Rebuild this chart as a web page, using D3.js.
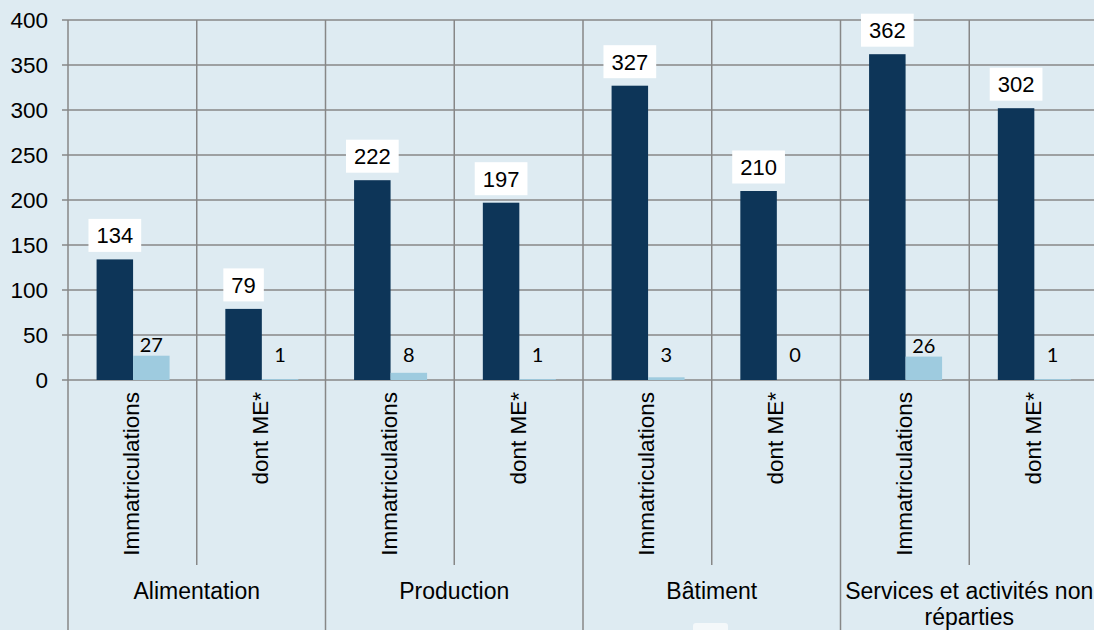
<!DOCTYPE html>
<html>
<head>
<meta charset="utf-8">
<script src="https://cdn.jsdelivr.net/npm/d3@7"></script>
<style>
  html, body { margin: 0; padding: 0; background: #deebf2; overflow: hidden; }
  svg { display: block; font-family: "Liberation Sans", Arial, sans-serif; }
</style>
</head>
<body>
<div id="chart"></div>
<script>
// values
const groups = ['Alimentation', 'Production', 'Bâtiment', 'Services et activités non réparties'];
const subLabels = ['Immatriculations', 'dont ME*'];
const darkValues = [134, 79, 222, 197, 327, 210, 362, 302];
const lightValues = [27, 1, 8, 1, 3, 0, 26, 1];
const yTicks = [0, 50, 100, 150, 200, 250, 300, 350, 400];

const width = 1094;
const height = 630;
const margin = { top: 20, left: 68, bottom: 250 };
const plotRight = 1098; // plot runs slightly past the picture edge
const axisY = height - margin.bottom;

// one row per sub-category
const rows = [];
groups.forEach((g, gi) => {
  subLabels.forEach((s, si) => {
    const i = gi * subLabels.length + si;
    rows.push({ key: i, group: g, sub: s, dark: darkValues[i], light: lightValues[i] });
  });
});

const svg = d3.select('#chart')
  .append('svg')
  .attr('width', width)
  .attr('height', height);

const x = d3.scaleBand()
  .domain(rows.map(d => d.key))
  .range([margin.left, plotRight]);

const xg = d3.scaleBand()
  .domain(groups)
  .range([margin.left, plotRight]);

const bw = x.bandwidth();
const x1 = d3.scaleBand()
  .domain(['dark', 'light'])
  .range([bw * 0.222, bw * 0.789]);

const y = d3.scaleLinear()
  .domain([0, 400])
  .range([axisY, margin.top]);

const gridColor = '#878787';

// horizontal gridlines + tick labels
const yAxis = svg.append('g').attr('class', 'y-axis');
yAxis.selectAll('line')
  .data(yTicks)
  .enter()
  .append('line')
  .attr('x1', margin.left - 6)
  .attr('x2', width)
  .attr('y1', d => y(d))
  .attr('y2', d => y(d))
  .attr('stroke', gridColor)
  .attr('stroke-width', 1.5);

yAxis.selectAll('text')
  .data(yTicks)
  .enter()
  .append('text')
  .attr('x', 48)
  .attr('y', d => y(d))
  .attr('dy', '0.36em')
  .attr('text-anchor', 'end')
  .attr('font-size', 22.5)
  .attr('fill', '#000')
  .text(d => d);

// vertical lines: sub-category boundaries inside the plot and below the axis
const bounds = d3.range(rows.length + 1);
svg.append('g').selectAll('line')
  .data(bounds)
  .enter()
  .append('line')
  .attr('x1', i => margin.left + i * bw)
  .attr('x2', i => margin.left + i * bw)
  .attr('y1', margin.top)
  .attr('y2', i => (i % subLabels.length === 0 ? height : 565))
  .attr('stroke', gridColor)
  .attr('stroke-width', 1.5);

// bars
const bars = svg.append('g').selectAll('g')
  .data(rows)
  .enter()
  .append('g')
  .attr('transform', d => `translate(${x(d.key)},0)`);

bars.append('rect')
  .attr('x', x1('dark'))
  .attr('width', x1.bandwidth())
  .attr('y', d => y(d.dark))
  .attr('height', d => y(0) - y(d.dark))
  .attr('fill', '#0d3558');

bars.append('rect')
  .attr('x', x1('light'))
  .attr('width', x1.bandwidth())
  .attr('y', d => y(d.light))
  .attr('height', d => y(0) - y(d.light))
  .attr('fill', '#9ecbdf');

// labels of dark bars, in white boxes
const darkLab = bars.append('g')
  .attr('transform', d => `translate(${x1('dark') + x1.bandwidth() / 2},${y(d.dark) - 24})`);

darkLab.append('text')
  .attr('text-anchor', 'middle')
  .attr('dy', '0.36em')
  .attr('font-size', 22)
  .attr('fill', '#000')
  .text(d => d.dark);

darkLab.each(function () {
  const g = d3.select(this);
  const box = g.select('text').node().getBBox();
  g.insert('rect', 'text')
    .attr('x', box.x - 8)
    .attr('y', -16.5)
    .attr('width', box.width + 16)
    .attr('height', 33)
    .attr('fill', '#ffffff');
});

// labels of light bars
bars.append('text')
  .attr('x', x1('light') + x1.bandwidth() / 2)
  .attr('y', d => Math.min(y(d.light) - 11, y(0) - 25))
  .attr('dy', '0.36em')
  .attr('text-anchor', 'middle')
  .attr('font-family', 'Lato, "Noto Sans", sans-serif')
  .attr('font-size', 20)
  .attr('fill', '#000')
  .text(d => d.light);

// rotated sub-category labels
svg.append('g').selectAll('text')
  .data(rows)
  .enter()
  .append('text')
  .attr('transform', d => `translate(${x(d.key) + bw / 2 - 1},${axisY + 12}) rotate(-90)`)
  .attr('text-anchor', 'end')
  .attr('dy', '0.36em')
  .attr('font-size', 22.5)
  .attr('fill', '#000')
  .text(d => d.sub);

// group labels, wrapped when too wide
const groupText = svg.append('g').selectAll('text')
  .data(groups)
  .enter()
  .append('text')
  .attr('text-anchor', 'middle')
  .attr('font-size', 23)
  .attr('fill', '#000');

groupText.each(function (g) {
  const t = d3.select(this);
  const cx = xg(g) + xg.bandwidth() / 2;
  const lines = g.length > 30 ? ['Services et activités non', 'réparties'] : [g];
  lines.forEach((ln, li) => {
    t.append('tspan')
      .attr('x', cx)
      .attr('y', 599 + li * 26)
      .text(ln);
  });
});

// legend remnant, cut off by the bottom edge
svg.append('rect')
  .attr('x', 693)
  .attr('y', 623)
  .attr('width', 35)
  .attr('height', 20)
  .attr('rx', 3)
  .attr('fill', '#f4f8fa');
</script>
</body>
</html>
